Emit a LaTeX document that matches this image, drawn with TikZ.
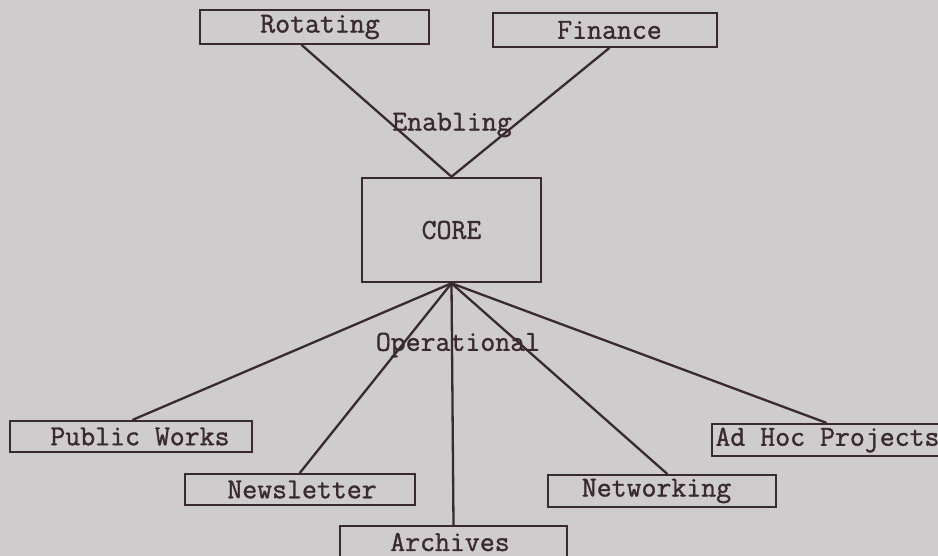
\documentclass[tikz,border=0pt]{standalone}
\usepackage{fontspec}
\setmonofont{Latin Modern Mono}[BoldFont=Latin Modern Mono, BoldFeatures={FakeBold=1.2}]
\definecolor{paper}{RGB}{206,204,204}
\definecolor{ink}{RGB}{58,42,48}
\tikzset{
  box/.style={draw=ink, line width=2.6pt, rectangle, inner sep=0pt,
    minimum height=32pt, text=ink, font=\ttfamily\bfseries\fontsize{29}{31}\selectfont},
  lbl/.style={text=ink, inner sep=0pt, font=\ttfamily\bfseries\fontsize{29}{31}\selectfont},
  link/.style={draw=ink, line width=2.3pt, line cap=round}
}
\newcommand{\shiftr}[2]{\hspace*{#1}#2}
\begin{document}
\begin{tikzpicture}[x=1pt,y=-1pt]
\fill[paper] (0,0) rectangle (938,556);
\useasboundingbox (0,0) rectangle (938,556);
% top boxes
\node[box, minimum width=229pt, minimum height=34pt] (rot) at (314.5,27) {\shiftr{11pt}{Rotating}};
\node[box, minimum width=224pt, minimum height=34pt] (fin) at (605,30) {\shiftr{9pt}{Finance}};
% core
\node[box, minimum width=179pt, minimum height=104pt] (core) at (451.5,230) {CORE};
% bottom boxes
\node[box, minimum width=242pt, minimum height=31pt] (pw) at (131,436.5) {\shiftr{18pt}{Public Works}};
\node[box, minimum width=230pt, minimum height=31pt] (news) at (300,489.5) {\shiftr{4pt}{Newsletter}};
\node[box, minimum width=227pt, minimum height=32pt] (arch) at (453.5,542) {Archives\hspace*{7pt}};
\node[box, minimum width=228pt, minimum height=32pt] (net) at (662,491) {Networking\hspace*{11pt}};
\node[box, minimum width=235pt, minimum height=32pt] (adhoc) at (829.5,440) {Ad Hoc Projects\hspace*{4pt}};
% connectors
\draw[link] ([xshift=-12.5pt]rot.south) -- (core.north);
\draw[link] ([xshift=4pt]fin.south) -- (core.north);
\draw[link] (core.south) -- ([xshift=2pt]pw.north);
\draw[link] (core.south) -- (news.north);
\draw[link] (core.south) -- (arch.north);
\draw[link] (core.south) -- ([xshift=5pt]net.north);
\draw[link] (core.south) -- ([xshift=-3.5pt]adhoc.north);
% labels
\node[lbl] (en) at (452,125) {Enabling};
\node[lbl] (op) at (458,345) {Operational};
\end{tikzpicture}
\end{document}
